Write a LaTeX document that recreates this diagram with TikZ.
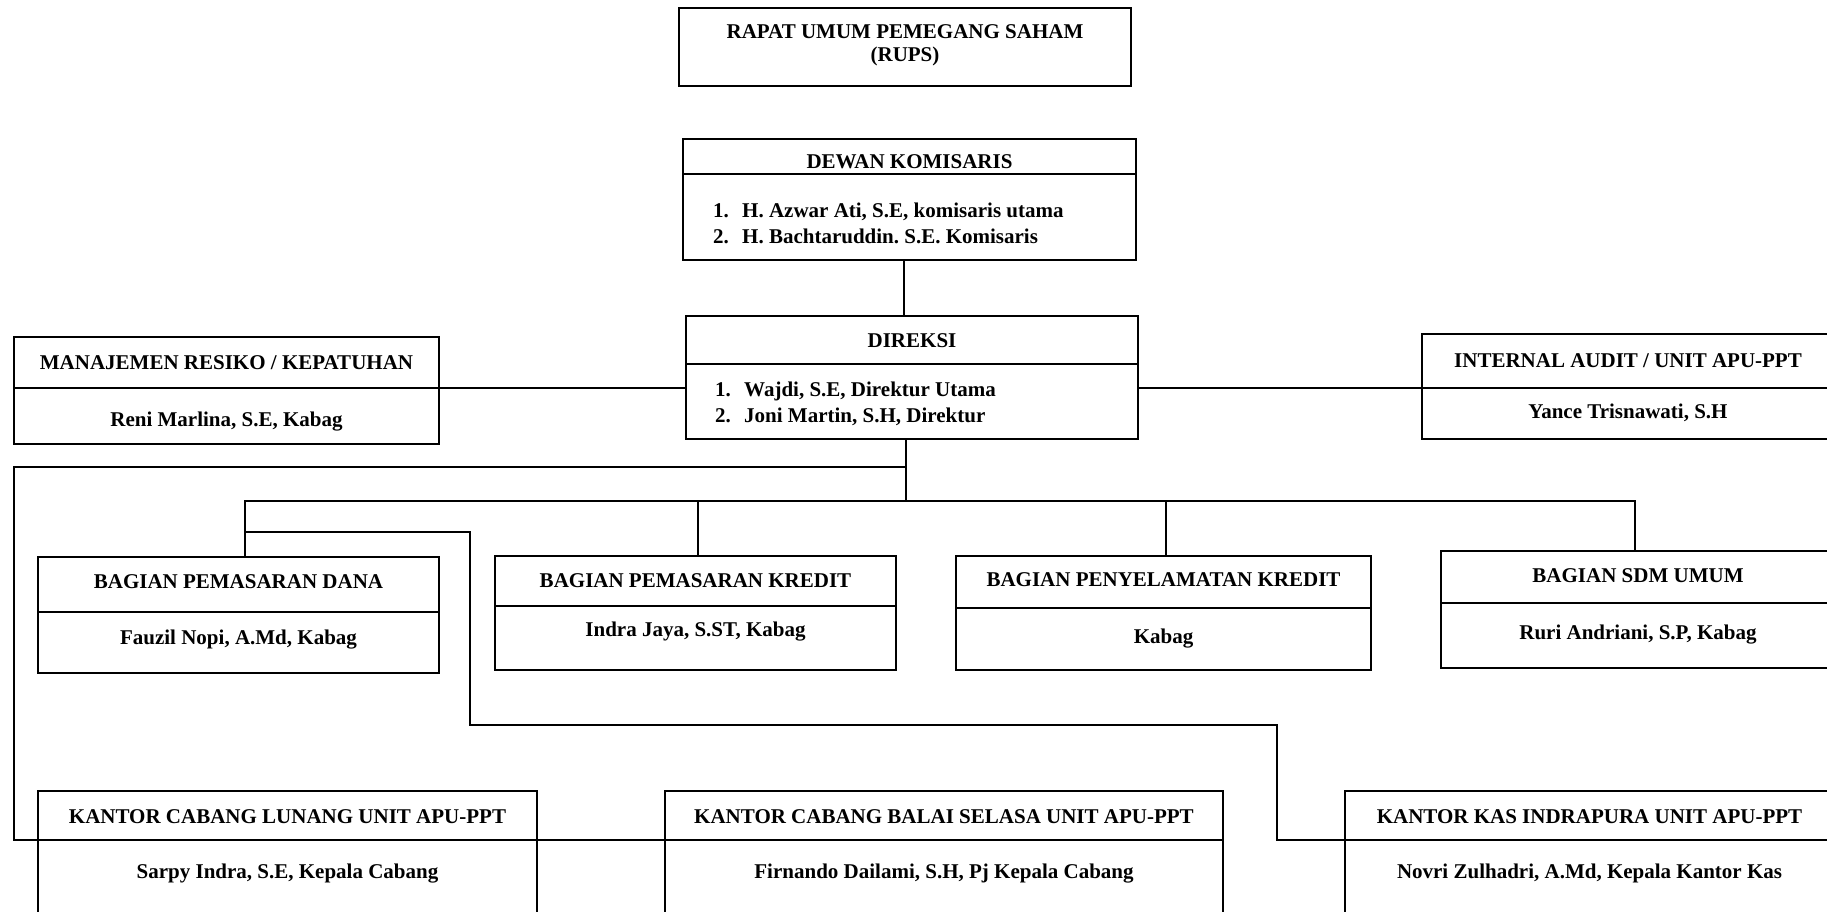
\documentclass[tikz,border=0pt]{standalone}
\usepackage{fontspec}
\setmainfont{Liberation Serif}
\frenchspacing
\tikzset{
  ln/.style={line width=1.8pt, line cap=rect},
  orgbox/.style={draw, line width=1.8pt, inner sep=0pt, outer sep=0pt, rectangle},
  txt/.style={inner sep=0pt, anchor=base, font=\bfseries\fontsize{21}{25}\selectfont},
  lst/.style={inner sep=0pt, anchor=base west, font=\bfseries\fontsize{21}{25}\selectfont},
}
\newcommand{\itm}[1]{\makebox[29pt][l]{#1}}
\newcommand{\obox}[5]{\node[orgbox, minimum width={(#4)-(#2)}, minimum height={(#5)-(#3)}] (#1) at ({((#2)+(#4))/2},{((#3)+(#5))/2}) {};}
\begin{document}
\begin{tikzpicture}[x=1pt,y=-1pt]
\useasboundingbox (0,0) rectangle (1827,912);
% boxes
\obox{rups}{679}{8}{1131}{86}
\obox{dewan}{683}{139}{1136}{260}
\obox{direksi}{686}{316}{1138}{439}
\obox{manaj}{14}{337}{439}{444}
\obox{audit}{1422}{334}{1834}{439}
\obox{dana}{38}{557}{439}{673}
\obox{kredit}{495}{556}{896}{670}
\obox{penyel}{956}{556}{1371}{670}
\obox{sdm}{1441}{551}{1835}{668}
\obox{lunang}{38}{791}{537}{930}
\obox{balai}{665}{791}{1223}{930}
\obox{kas}{1345}{791}{1834}{930}
% dividers
\draw[ln] (683,174) -- (1136,174);
\draw[ln] (686,364) -- (1138,364);
\draw[ln] (14,388) -- (439,388);
\draw[ln] (1422,388) -- (1834,388);
\draw[ln] (38,612) -- (439,612);
\draw[ln] (495,606) -- (896,606);
\draw[ln] (956,608) -- (1371,608);
\draw[ln] (1441,603) -- (1835,603);
\draw[ln] (38,840) -- (537,840);
\draw[ln] (665,840) -- (1223,840);
\draw[ln] (1345,840) -- (1834,840);
% texts
\node[txt] (t1) at (905,39) {RAPAT UMUM PEMEGANG SAHAM};
\node[txt] (t2) at (905,62) {(RUPS)};
\node[txt] (t3) at (909.5,169) {DEWAN KOMISARIS};
\node[lst] (t4) at (713,218) {\itm{1.}H. Azwar Ati, S.E, komisaris utama};
\node[lst] (t5) at (713,243) {\itm{2.}H. Bachtaruddin. S.E. Komisaris};
\node[txt] (t6) at (912,347) {DIREKSI};
\node[lst] (t7) at (715,396) {\itm{1.}Wajdi, S.E, Direktur Utama};
\node[lst] (t8) at (715,422) {\itm{2.}Joni Martin, S.H, Direktur};
\node[txt] (t9) at (226.5,369) {MANAJEMEN RESIKO / KEPATUHAN};
\node[txt] (t10) at (226.5,426) {Reni Marlina, S.E, Kabag};
\node[txt] (t11) at (1628,367) {INTERNAL AUDIT / UNIT APU-PPT};
\node[txt] (t12) at (1628,418) {Yance Trisnawati, S.H};
\node[txt] (t13) at (238.5,588) {BAGIAN PEMASARAN DANA};
\node[txt] (t14) at (238.5,644) {Fauzil Nopi, A.Md, Kabag};
\node[txt] (t15) at (695.5,587) {BAGIAN PEMASARAN KREDIT};
\node[txt] (t16) at (695.5,636) {Indra Jaya, S.ST, Kabag};
\node[txt] (t17) at (1163.5,586) {BAGIAN PENYELAMATAN KREDIT};
\node[txt] (t18) at (1163.5,643) {Kabag};
\node[txt] (t19) at (1638,582) {BAGIAN SDM UMUM};
\node[txt] (t20) at (1638,639) {Ruri Andriani, S.P, Kabag};
\node[txt] (t21) at (287.5,823) {KANTOR CABANG LUNANG UNIT APU-PPT};
\node[txt] (t22) at (287.5,878) {Sarpy Indra, S.E, Kepala Cabang};
\node[txt] (t23) at (944,823) {KANTOR CABANG BALAI SELASA UNIT APU-PPT};
\node[txt] (t24) at (944,878) {Firnando Dailami, S.H, Pj Kepala Cabang};
\node[txt] (t25) at (1589.5,823) {KANTOR KAS INDRAPURA UNIT APU-PPT};
\node[txt] (t26) at (1589.5,878) {Novri Zulhadri, A.Md, Kepala Kantor Kas};
% connector coordinates
\coordinate (c1) at (904,0);
\coordinate (ys) at (0,388);
\coordinate (jd) at (906,467);
\coordinate (jb) at (906,501);
\coordinate (lk) at (14,840);
\coordinate (b1) at (245,501);
\coordinate (b2) at (698,501);
\coordinate (b3) at (1166,501);
\coordinate (b4) at (1635,501);
\coordinate (r1) at (245,532);
\coordinate (r2) at (470,725);
\coordinate (r3) at (1277,840);
% connectors
\draw[ln] (dewan.south -| c1) -- (direksi.north -| c1);
\draw[ln] (manaj.east |- ys) -- (direksi.west |- ys);
\draw[ln] (direksi.east |- ys) -- (audit.west |- ys);
\draw[ln] (direksi.south -| jd) -- (jb);
\draw[ln] (jd) -| (lk) -- (balai.west |- lk);
\draw[ln] (b1) -- (b4);
\draw[ln] (b1) -- (b1 |- dana.north);
\draw[ln] (b2) -- (b2 |- kredit.north);
\draw[ln] (b3) -- (b3 |- penyel.north);
\draw[ln] (b4) -- (b4 |- sdm.north);
\draw[ln] (r1) -| (r2) -| (r3) -- (kas.west |- r3);
\end{tikzpicture}
\end{document}
